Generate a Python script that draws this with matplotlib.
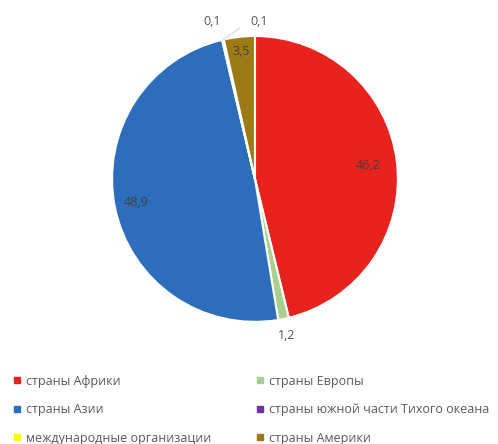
import matplotlib
matplotlib.use("Agg")
import matplotlib.pyplot as plt
from matplotlib.lines import Line2D
import numpy as np

plt.rcParams["font.family"] = ["Open Sans", "DejaVu Sans"]

categories = ["страны Африки", "страны Европы", "страны Азии",
              "страны южной части Тихого океана", "международные организации",
              "страны Америки"]
values = [46.2, 1.2, 48.9, 0.1, 0.1, 3.5]
labels = ["46,2", "1,2", "48,9", "0,1", "0,1", "3,5"]
colors = ["#E8231E", "#A9D08E", "#2E6DBC", "#7030A0", "#FFFF00", "#9C7A15"]

fig = plt.figure(figsize=(4.98, 4.44), dpi=100)
ax = fig.add_axes([0.225, 0.275, 0.574, 0.644])

wedges, _ = ax.pie(values, colors=colors, startangle=90, counterclock=False,
                   wedgeprops=dict(edgecolor="white", linewidth=1.5))
ax.set_xlim(-1, 1)
ax.set_ylim(-1, 1)
ax.set_aspect("equal")


def mid(w, r):
    a = np.deg2rad((w.theta1 + w.theta2) / 2)
    return r * np.cos(a), r * np.sin(a)


inside = "#404040"
outside = "#595959"
# big slices: labels inside
for i, r in [(0, 0.8), (2, 0.85), (5, 0.9)]:
    x, y = mid(wedges[i], r)
    ax.text(x, y, labels[i], ha="center", va="center", fontsize=9, color=inside)

# Europe below the pie
x, y = mid(wedges[1], 1.12)
ax.text(x, y, labels[1], ha="center", va="center", fontsize=9, color=outside)

# Pacific: left label at top, no leader
ax.text(-0.30, 1.10, labels[3], ha="center", va="center", fontsize=9, color=outside)

# international organisations: right label with leader line
ex, ey = mid(wedges[4], 1.0)
ax.annotate(labels[4], xy=(ex, ey), xytext=(0.03, 1.10), ha="center", va="center",
            fontsize=9, color=outside, annotation_clip=False,
            arrowprops=dict(arrowstyle="-", color="#D9D9D9", lw=0.8,
                            shrinkA=7, shrinkB=0,
                            connectionstyle="angle,angleA=0,angleB=35,rad=0"))

handles = [Line2D([], [], marker="s", linestyle="", markersize=4,
                  markerfacecolor=c, markeredgecolor=c) for c in colors]
order = [0, 2, 4, 1, 3, 5]
fig.legend([handles[i] for i in order], [categories[i] for i in order],
           ncol=2, loc="upper left", bbox_to_anchor=(0.017, 0.167),
           frameon=False, fontsize=9, labelcolor="#595959",
           handlelength=0.6, handletextpad=0.4, labelspacing=1.24,
           columnspacing=3.6, borderaxespad=0)

fig.savefig("out.png", dpi=100)
